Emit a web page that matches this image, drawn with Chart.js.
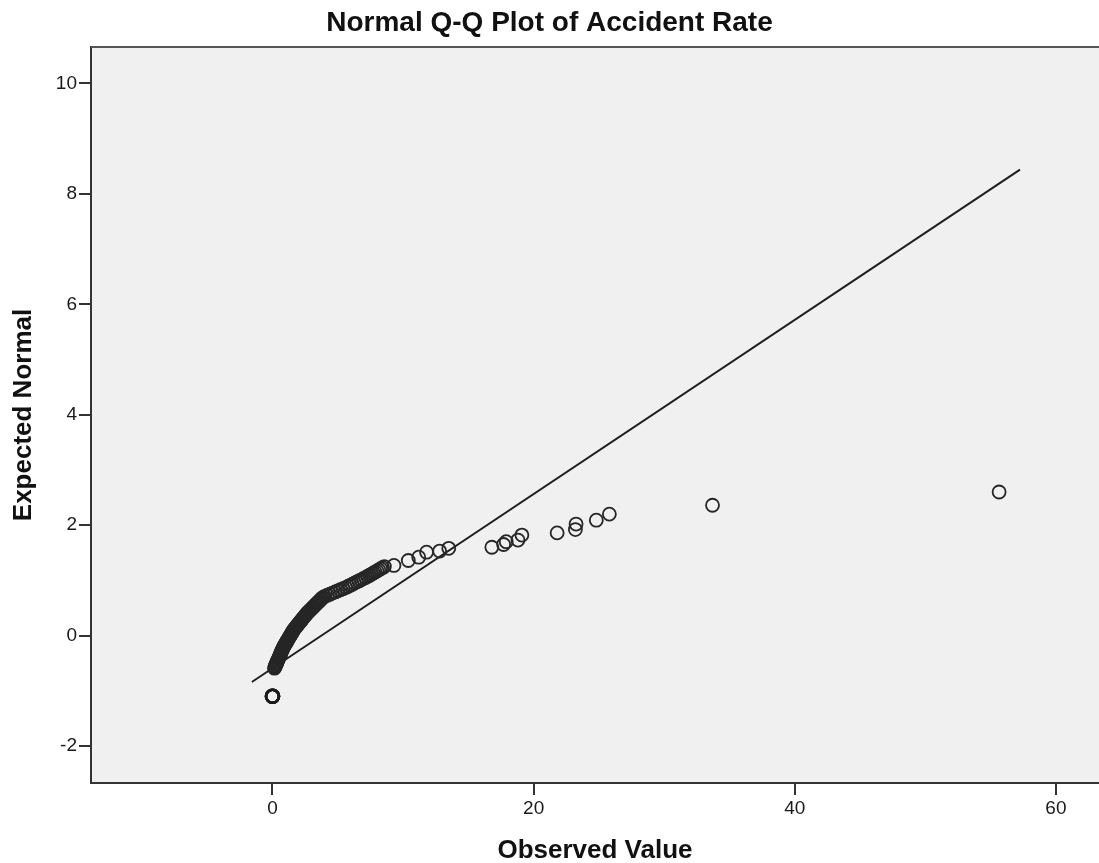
<!DOCTYPE html>
<html>
<head>
<meta charset="utf-8">
<script src="https://cdn.jsdelivr.net/npm/chart.js@4.4.1/dist/chart.umd.min.js"></script>
<style>
  html, body { margin: 0; padding: 0; background: #ffffff; }
  #wrap { width: 1099px; height: 863px; }
</style>
</head>
<body>
<div id="wrap"><canvas id="c" width="1099" height="863"></canvas></div>
<script>
// ---- Data ----
const chartTitle = "Normal Q-Q Plot of Accident Rate";
const xAxisTitle = "Observed Value";
const yAxisTitle = "Expected Normal";
const xTickValues = [0, 20, 40, 60];
const yTickValues = [-2, 0, 2, 4, 6, 8, 10];

// tied zero observations
const zeroObserved = [0, 0, 0, 0];
const zeroExpected = [-1.10, -1.10, -1.10, -1.10];

// observed values (x) and expected normal values (y)
const observed = [
  0.15, 0.19, 0.22, 0.26, 0.30, 0.33, 0.37, 0.40, 0.44, 0.48,
  0.51, 0.55, 0.59, 0.62, 0.66, 0.70, 0.73, 0.77, 0.80, 0.84,
  0.89, 0.94, 0.99, 1.04, 1.09, 1.14, 1.19, 1.24, 1.29, 1.34,
  1.39, 1.44, 1.49, 1.54, 1.59,
  1.64, 1.71, 1.78, 1.85, 1.92, 1.98, 2.05, 2.12, 2.19, 2.26,
  2.32, 2.39, 2.46, 2.53, 2.60,
  2.67, 2.76, 2.84, 2.93, 3.01, 3.10, 3.18, 3.27, 3.35, 3.43,
  3.52, 3.60, 3.69, 3.77, 3.86,
  4.00, 4.20, 4.40, 4.60, 4.80, 5.00, 5.20, 5.40, 5.60,
  5.78, 5.95, 6.12, 6.28, 6.45, 6.62, 6.78, 6.95, 7.12,
  7.27, 7.42, 7.56, 7.71, 7.85, 8.00, 8.14, 8.28, 8.43, 8.57,
  9.3, 10.4, 11.2, 11.8, 12.8, 13.5, 16.8, 17.7, 17.9, 18.8,
  19.1, 21.8, 23.2, 23.25, 24.8, 25.8, 33.7, 55.65
];
const expected = [
  -0.59, -0.57, -0.55, -0.53, -0.51, -0.49, -0.47, -0.45, -0.43, -0.41,
  -0.39, -0.37, -0.35, -0.33, -0.31, -0.29, -0.27, -0.25, -0.23, -0.21,
  -0.19, -0.17, -0.15, -0.13, -0.11, -0.09, -0.07, -0.05, -0.03, -0.01,
  0.01, 0.03, 0.05, 0.07, 0.09,
  0.11, 0.13, 0.15, 0.17, 0.19, 0.21, 0.23, 0.25, 0.27, 0.29,
  0.31, 0.33, 0.35, 0.37, 0.39,
  0.41, 0.43, 0.45, 0.47, 0.49, 0.51, 0.53, 0.55, 0.57, 0.59,
  0.61, 0.63, 0.65, 0.67, 0.69,
  0.71, 0.73, 0.75, 0.77, 0.79, 0.81, 0.83, 0.85, 0.87,
  0.89, 0.91, 0.93, 0.95, 0.97, 0.99, 1.01, 1.03, 1.05,
  1.07, 1.09, 1.11, 1.13, 1.15, 1.17, 1.19, 1.21, 1.23, 1.25,
  1.27, 1.36, 1.42, 1.51, 1.53, 1.58, 1.60, 1.65, 1.70, 1.73,
  1.82, 1.86, 1.92, 2.02, 2.09, 2.20, 2.36, 2.60
];

// reference line endpoints
const lineObserved = [-1.58, 57.25];
const lineExpected = [-0.84, 8.44];

// axis ranges
const xRange = [-13.9, 63.3];
const yRange = [-2.67, 10.66];

// ---- Build chart ----
const toPts = (xs, ys) => xs.map((x, i) => ({ x: x, y: ys[i] }));

const plotBg = {
  id: 'plotBg',
  beforeDraw(chart) {
    const { ctx, chartArea: a } = chart;
    ctx.save();
    ctx.fillStyle = '#f0f0f0';
    ctx.fillRect(a.left, a.top, a.right - a.left, a.bottom - a.top);
    ctx.restore();
  },
  afterDraw(chart) {
    const { ctx, chartArea: a } = chart;
    ctx.save();
    ctx.strokeStyle = '#555555';
    ctx.lineWidth = 2;
    ctx.beginPath();
    ctx.moveTo(a.left, a.top);
    ctx.lineTo(a.right, a.top);
    ctx.stroke();
    ctx.restore();
  }
};

const FONT = "'Liberation Sans', Arial, sans-serif";

new Chart(document.getElementById('c'), {
  type: 'scatter',
  data: {
    datasets: [
      {
        type: 'line',
        data: toPts(lineObserved, lineExpected),
        borderColor: '#1e1e1e',
        borderWidth: 2,
        pointRadius: 0,
        fill: false,
        order: 3
      },
      {
        data: toPts(observed, expected),
        pointStyle: 'circle',
        pointRadius: 6.5,
        pointBorderWidth: 1.8,
        borderColor: '#262626',
        backgroundColor: 'rgba(0,0,0,0)',
        order: 1
      },
      {
        data: toPts(zeroObserved, zeroExpected),
        pointStyle: 'circle',
        pointRadius: 6.5,
        pointBorderWidth: 2.6,
        borderColor: '#1a1a1a',
        backgroundColor: 'rgba(0,0,0,0)',
        order: 2
      }
    ]
  },
  options: {
    responsive: false,
    devicePixelRatio: 1,
    animation: false,
    layout: { padding: 0, autoPadding: false },
    plugins: {
      legend: { display: false },
      tooltip: { enabled: false },
      title: {
        display: true,
        text: chartTitle,
        color: '#111111',
        font: { family: FONT, size: 28, weight: 'bold' },
        padding: { top: 6.5, bottom: 6.9 }
      }
    },
    scales: {
      x: {
        type: 'linear',
        min: xRange[0],
        max: xRange[1],
        afterBuildTicks: (s) => { s.ticks = xTickValues.map(v => ({ value: v })); },
        afterFit: (s) => { s.height = 80; s.paddingRight = 0; s.paddingLeft = 0; },
        grid: { drawOnChartArea: false, drawTicks: true, tickLength: 12, color: '#333333', lineWidth: 2 },
        border: { display: true, color: '#333333', width: 2 },
        ticks: { color: '#1a1a1a', font: { family: FONT, size: 19 }, padding: 2, maxRotation: 0 },
        title: {
          display: true,
          text: xAxisTitle,
          color: '#111111',
          font: { family: FONT, size: 26, weight: 'bold' },
          padding: { top: 0, bottom: -3.6 }
        }
      },
      y: {
        type: 'linear',
        min: yRange[0],
        max: yRange[1],
        afterBuildTicks: (s) => { s.ticks = yTickValues.map(v => ({ value: v })); },
        afterFit: (s) => { s.width = 91; s.paddingTop = 0; s.paddingBottom = 0; },
        grid: { drawOnChartArea: false, drawTicks: true, tickLength: 12, color: '#333333', lineWidth: 2 },
        border: { display: true, color: '#333333', width: 2 },
        ticks: { color: '#1a1a1a', font: { family: FONT, size: 19 }, padding: 2 },
        title: {
          display: true,
          text: yAxisTitle,
          color: '#111111',
          font: { family: FONT, size: 26, weight: 'bold' },
          padding: { top: 8.4, bottom: 0 }
        }
      }
    }
  },
  plugins: [plotBg]
});
</script>
</body>
</html>
